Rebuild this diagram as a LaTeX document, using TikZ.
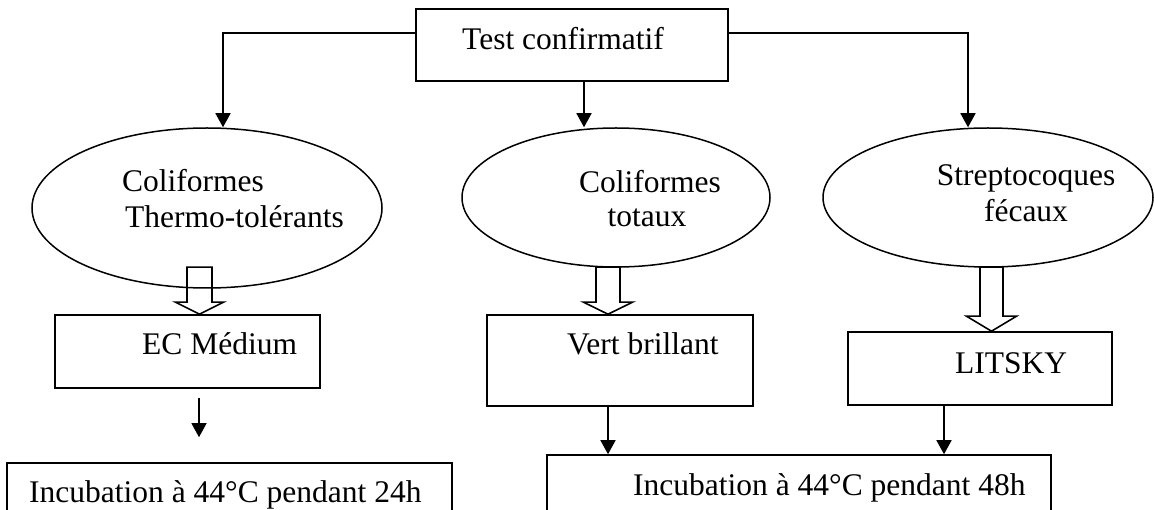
\documentclass[tikz,border=0pt]{standalone}
\usepackage{fontspec}
\setmainfont{Liberation Serif}
\usetikzlibrary{shapes.geometric,arrows.meta}
\begin{document}
\begin{tikzpicture}[x=1pt, y=-1pt,
                    main/.style = {draw, ellipse, line width=1.5pt, inner sep=0pt},
                    box/.style = {draw, rectangle, line width=1.6pt, inner sep=0pt},
                    lbl/.style = {inner sep=0pt, anchor=base west, font=\fontsize{31.5}{36}\selectfont},
                    arr/.style = {line width=1.6pt, -{Triangle[width=15pt,length=14pt]}},
                    hollow/.style = {draw, line width=1.6pt, line join=miter}]
                    \useasboundingbox (0,0) rectangle (1154,510);
                    \clip (0,0) rectangle (1154,510);

                    \node[box, minimum width=312pt, minimum height=72pt] (1) at (572,45) {};
                    \node[main, minimum width=350pt, minimum height=160pt] (2) at (207,208) {};
                    \node[main, minimum width=308pt, minimum height=139pt] (3) at (616,197.5) {};
                    \node[main, minimum width=330pt, minimum height=139pt] (4) at (988,197.5) {};

                    \node[box, minimum width=265pt, minimum height=73pt] (5) at (187.5,351.5) {};
                    \node[box, minimum width=266pt, minimum height=91pt] (6) at (620,360.5) {};
                    \node[box, minimum width=264pt, minimum height=73pt] (7) at (980,368.5) {};

                    \node[box, minimum width=445pt, minimum height=100pt] (8) at (229.5,513) {};
                    \node[box, minimum width=504pt, minimum height=100pt] (9) at (799,505) {};

                    \node[lbl] (t1) at (462,50) {Test confirmatif};
                    \node[lbl] (t2) at (122,192) {Coliformes};
                    \node[lbl] (t3) at (125,228) {Thermo-tolérants};
                    \node[lbl, anchor=base] (t4) at (650,193) {Coliformes};
                    \node[lbl, anchor=base] (t5) at (647,227) {totaux};
                    \node[lbl, anchor=base] (t6) at (1026,186) {Streptocoques};
                    \node[lbl, anchor=base] (t7) at (1026,222) {fécaux};
                    \node[lbl] (t8) at (142,355) {EC Médium};
                    \node[lbl] (t9) at (567,355) {Vert brillant};
                    \node[lbl] (t10) at (955,374) {LITSKY};
                    \node[lbl] (t11) at (29,502) {Incubation à 44°C pendant 24h};
                    \node[lbl] (t12) at (633,495) {Incubation à 44°C pendant 48h};

                    \draw[arr] ([yshift=12pt]1.west) -| ([xshift=16pt]2.north);
                    \draw[arr] ([xshift=12pt]1.south) -- ([xshift=12pt]1.south |- 3.north);
                    \draw[arr] ([yshift=12pt]1.east) -| ([xshift=-20pt]4.north);

                    \draw[hollow] ([xshift=12pt]5.north) -- ++(24,-12) -- ++(-11.5,0) -- ++(0,-35) -- ++(-25,0) -- ++(0,35) -- ++(-11.5,0) -- cycle;
                    \draw[hollow] ([xshift=-12pt]6.north) -- ++(24.5,-12) -- ++(-12.5,0) -- ++(0,-35) -- ++(-24,0) -- ++(0,35) -- ++(-12.5,0) -- cycle;
                    \draw[hollow] ([xshift=11.5pt]7.north) -- ++(25,-15) -- ++(-13.5,0) -- ++(0,-49) -- ++(-23,0) -- ++(0,49) -- ++(-13.5,0) -- cycle;

                    \draw[arr, line width=1.3pt, shorten <=9pt, shorten >=25pt] ([xshift=11.5pt]5.south) -- ([xshift=11.5pt]5.south |- 8.north);
                    \draw[arr] ([xshift=-12pt]6.south) -- ([xshift=-12pt]6.south |- 9.north);
                    \draw[arr] ([xshift=-36pt]7.south) -- ([xshift=-36pt]7.south |- 9.north);
                \end{tikzpicture}
\end{document}
